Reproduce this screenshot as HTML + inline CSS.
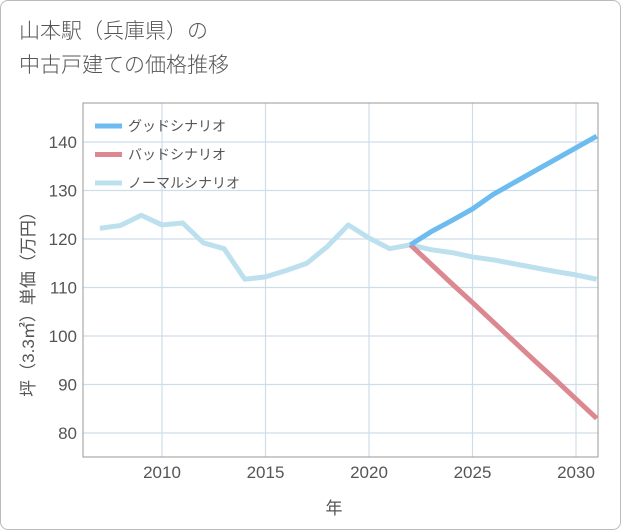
<!DOCTYPE html>
<html><head><meta charset="utf-8"><style>
body{margin:0;background:#fff;}
#w{position:relative;width:619px;height:528px;border:1px solid #bbb;border-radius:8px;overflow:hidden;font-family:"Liberation Sans","Noto Sans CJK JP",sans-serif;}
#t{position:absolute;left:18px;top:14px;font-size:21px;line-height:34px;color:#555;font-weight:300;}
</style></head><body>
<div id="w">
<div id="t">山本駅（兵庫県）の<br>中古戸建ての価格推移</div>
<svg id="s" width="621" height="530" style="position:absolute;left:-1px;top:-1px"></svg>
</div>
<script>
const years=[2007,2008,2009,2010,2011,2012,2013,2014,2015,2016,2017,2018,2019,2020,2021,2022,2023,2024,2025,2026,2027,2028,2029,2030,2031];
const normal=[122.2,122.8,124.9,122.9,123.3,119.2,118,111.7,112.2,113.5,115,118.5,122.9,120.2,118,118.8,117.8,117.2,116.3,115.7,114.9,114.1,113.3,112.6,111.7];
const goodYears=[2022,2023,2024,2025,2026,2027,2028,2029,2030,2031];
const good=[118.8,121.5,123.8,126.2,129.2,131.6,134,136.4,138.8,141.2];
const badYears=[2022,2023,2024,2025,2026,2027,2028,2029,2030,2031];
const bad=[118.8,114.8,110.8,106.9,102.9,98.9,94.9,91,87,83];
const xTicks=[2010,2015,2020,2025,2030];
const yTicks=[80,90,100,110,120,130,140];
const L=83,R=598,T=103,B=457;
const X=v=>162+(v-2010)*20.7;
const Y=v=>433-(v-80)*4.85;
const s=document.getElementById('s');
const NS='http://www.w3.org/2000/svg';
function mk(tag,a,p){const e=document.createElementNS(NS,tag);for(const k in a)e.setAttribute(k,a[k]);(p||s).appendChild(e);return e;}
for(const t of xTicks){const g=mk('line',{x1:X(t),x2:X(t),y1:T,y2:B,stroke:'#cfdde9','stroke-width':1.2});


const tx=mk('text',{x:X(t),y:478,'text-anchor':'middle','font-size':17,fill:'#555'});tx.textContent=t;

}
for(const t of yTicks){const g=mk('line',{x1:L,x2:R,y1:Y(t),y2:Y(t),stroke:'#cfdde9','stroke-width':1.2});


const tx=mk('text',{x:77,y:Y(t)+6,'text-anchor':'end','font-size':17,fill:'#555'});tx.textContent=t;

}
const fr=mk('rect',{x:L,y:T,width:R-L,height:B-T,fill:'none',stroke:'#999','stroke-width':1});


function line(xs,vs,c,n){const p=mk('polyline',{points:xs.map((x,i)=>X(x)+','+Y(vs[i])).join(' '),fill:'none',stroke:c,'stroke-width':5,'stroke-linejoin':'round'});

}
line(years,normal,'#bde0ee','normal-scenario-line');
line(badYears,bad,'#dc8890','bad-scenario-line');
line(goodYears,good,'#6cbcf0','good-scenario-line');
const leg=[['グッドシナリオ','#6cbcf0'],['バッドシナリオ','#dc8890'],['ノーマルシナリオ','#bde0ee']];
leg.forEach((l,i)=>{const y=126+i*28.5;
const ln=mk('line',{x1:95,x2:122,y1:y,y2:y,stroke:l[1],'stroke-width':5});


const tx=mk('text',{x:128,y:y+5,'font-size':14,fill:'#555'});tx.textContent=l[0];

});
const xt=mk('text',{x:334,y:514,'text-anchor':'middle','font-size':17,fill:'#555'});xt.textContent='年';


const yt=mk('text',{x:0,y:0,'text-anchor':'middle','font-size':17,fill:'#555',transform:'translate(34,300) rotate(-90)'});yt.textContent='坪（3.3㎡）単価（万円）';


</script>
</body></html>
